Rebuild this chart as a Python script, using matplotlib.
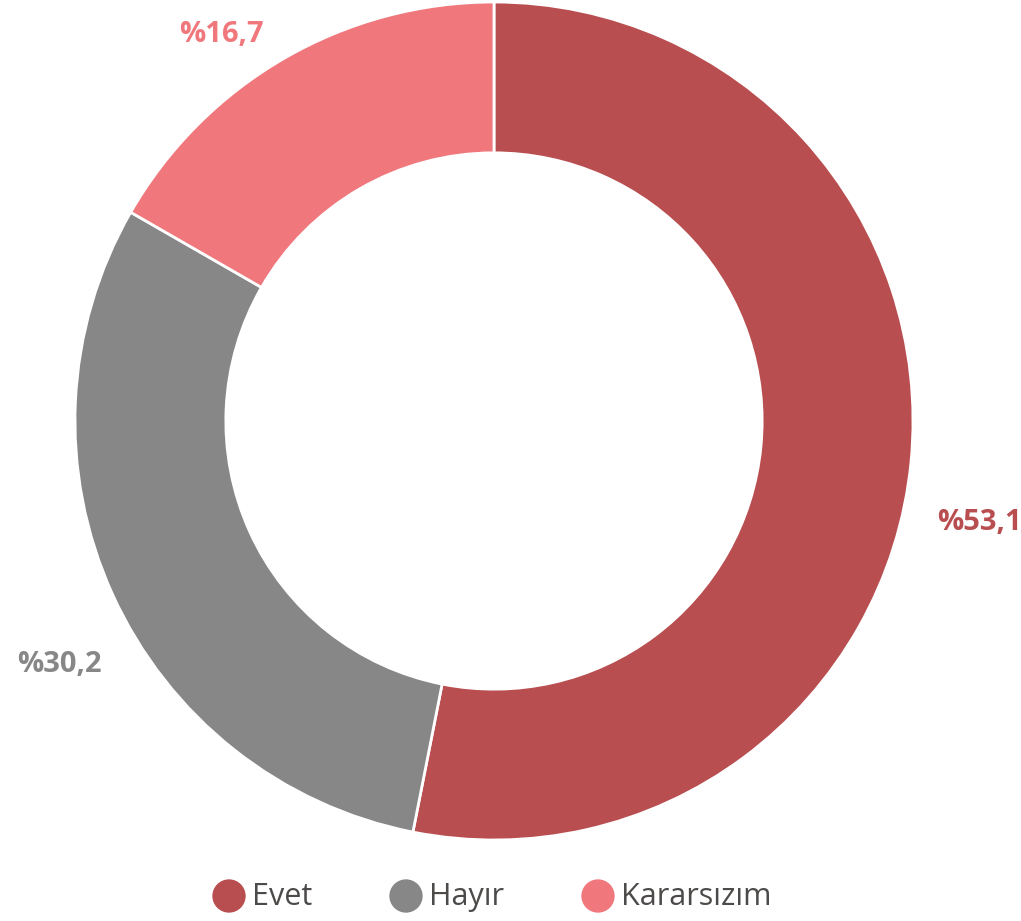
import matplotlib
matplotlib.use("Agg")
import matplotlib.pyplot as plt

categories = ["Evet", "Hayır", "Kararsızım"]
values = [53.1, 30.2, 16.7]
labels = ["%53,1", "%30,2", "%16,7"]
colors = ["#B94E50", "#878787", "#F0787C"]

W, H = 1021, 921
fig = plt.figure(figsize=(W / 100, H / 100), dpi=100)
ax = fig.add_axes([0, 0, 1, 1])

cx, cy, R = 494, H - 421, 419
ax.pie(values, colors=colors, startangle=90, counterclock=False,
       center=(cx, cy), radius=R, frame=True,
       wedgeprops=dict(width=R * 0.36, edgecolor="white", linewidth=2))
ax.set_xlim(0, W)
ax.set_ylim(0, H)
ax.set_aspect("equal")
ax.axis("off")

label_pos = [(979, H - 523), (59, H - 665), (221, H - 35)]
for (x, y), lab, c in zip(label_pos, labels, colors):
    ax.text(x, y, lab, color=c, fontsize=21, fontweight="bold",
            family="Open Sans", ha="center", va="center")

# manual legend
leg_y = H - 896
leg_x = [229, 406, 598]
for x, cat, c in zip(leg_x, categories, colors):
    ax.scatter([x], [leg_y], s=24 ** 2, color=c, edgecolors="none", zorder=5)
    ax.text(x + 23, leg_y - 1, cat, color="#4d4b4a", fontsize=22,
            family="Open Sans", ha="left", va="center")

fig.savefig("out.png", dpi=100, facecolor="white")
